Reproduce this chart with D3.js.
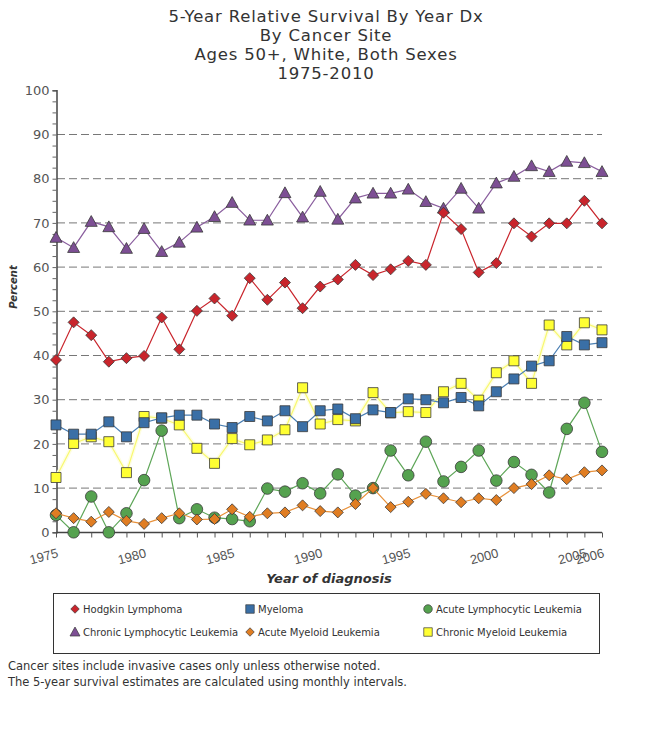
<!DOCTYPE html>
<html><head><meta charset="utf-8">
<script src="https://cdn.jsdelivr.net/npm/d3@7"></script>
<style>body{margin:0;background:#fff;} svg{display:block;}</style>
</head><body>
<svg id="c" width="650" height="742"></svg>
<script>
const years = d3.range(1975, 2007);
const titleLines = ["5-Year Relative Survival By Year Dx", "By Cancer Site", "Ages 50+, White, Both Sexes", "1975-2010"];
const xTickLabels = [1975, 1980, 1985, 1990, 1995, 2000, 2005, 2006];
const yTickLabels = [0, 10, 20, 30, 40, 50, 60, 70, 80, 90, 100];

const hodgkin = [39.0,47.5,44.6,38.6,39.4,39.9,48.6,41.4,50.1,52.9,49.0,57.5,52.6,56.5,50.7,55.6,57.2,60.5,58.2,59.5,61.4,60.5,72.3,68.6,58.8,60.9,69.9,66.9,69.9,69.9,75.0,69.9];
const myeloma = [24.3,22.2,22.2,25.0,21.6,24.8,25.9,26.5,26.5,24.5,23.7,26.2,25.2,27.5,23.9,27.5,27.9,25.7,27.7,27.1,30.2,30.0,29.3,30.5,28.6,31.8,34.7,37.6,38.8,44.3,42.4,42.9];
const all = [3.9,0.0,8.1,0.0,4.3,11.8,23.0,3.2,5.2,3.3,3.0,2.5,9.9,9.2,11.1,8.8,13.1,8.3,10.0,18.5,12.9,20.5,11.5,14.8,18.5,11.7,15.9,13.0,9.0,23.4,29.3,18.2];
const cll = [66.7,64.4,70.3,69.1,64.2,68.7,63.5,65.6,69.0,71.4,74.6,70.6,70.6,76.8,71.3,77.1,70.8,75.6,76.7,76.7,77.6,74.8,73.3,77.8,73.3,79.0,80.5,82.9,81.6,83.9,83.6,81.6];
const aml = [4.3,3.2,2.4,4.6,2.6,1.9,3.2,4.3,2.9,3.0,5.2,3.5,4.3,4.5,6.1,4.8,4.5,6.4,10.0,5.7,6.9,8.7,7.7,6.8,7.7,7.3,10.0,10.9,12.9,12.0,13.6,14.0];
const cml = [12.4,20.1,21.6,20.5,13.5,26.2,25.8,24.3,19.0,15.6,21.2,19.8,20.9,23.2,32.7,24.5,25.5,25.2,31.6,27.0,27.3,27.1,31.8,33.7,29.9,36.1,38.8,33.7,46.9,42.4,47.4,45.8];

const seriesNames = ["Hodgkin Lymphoma","Myeloma","Acute Lymphocytic Leukemia","Chronic Lymphocytic Leukemia","Acute Myeloid Leukemia","Chronic Myeloid Leukemia"];
const seriesValues = [hodgkin, myeloma, all, cll, aml, cml];
const seriesFill = ["#c9252c","#3a6fa6","#55a24f","#7d4f94","#e07d22","#ffff33"];
const seriesLine = ["#c9252c","#4a7fb3","#5ea658","#8a5e9e","#e8913a","#f8f870"];
const seriesShape = ["diamond","square","circle","triangle","diamond","square"];
const drawOrder = [3, 0, 5, 1, 2, 4];

const svg = d3.select("#c");
const x = d3.scaleLinear().domain([1975, 2006]).range([56, 602]);
const y = d3.scaleLinear().domain([0, 100]).range([532.3, 90.3]);

// title
svg.append("g").selectAll("text").data(titleLines).join("text")
  .attr("x", 326).attr("y", (d, i) => 22 + i * 19)
  .attr("text-anchor", "middle")
  .attr("font-family", "DejaVu Sans").attr("font-size", 16.5).attr("letter-spacing", 0.8).attr("fill", "#333")
  .text(d => d);

// gridlines
svg.append("g").selectAll("line").data(yTickLabels.filter(v => v > 0 && v < 100)).join("line")
  .attr("x1", 57).attr("x2", 602).attr("y1", d => y(d)).attr("y2", d => y(d))
  .attr("stroke", "#777").attr("stroke-width", 1).attr("stroke-dasharray", "8,4");

// y axis
const yAxis = d3.axisLeft(y).tickValues(d3.range(0, 100.1, 2.5)).tickSize(4)
  .tickFormat(d => (d % 10 === 0 ? d : ""));
const gy = svg.append("g").attr("transform", "translate(56.5,0)").call(yAxis);
gy.select(".domain").attr("stroke", "#444").attr("stroke-width", 1.5);
gy.selectAll(".tick line").attr("stroke", "#666");
gy.selectAll(".tick text").attr("font-family", "DejaVu Sans").attr("font-size", 13).attr("fill", "#555").attr("x", -7);

// x axis
const xAxis = d3.axisBottom(x).tickValues(years).tickSize(5).tickFormat("");
const gx = svg.append("g").attr("transform", "translate(0,532.5)").call(xAxis);
gx.select(".domain").attr("stroke", "#444").attr("stroke-width", 1.5).attr("d", "M56,0H602");
gx.selectAll(".tick line").attr("stroke", "#555");
svg.append("g").selectAll("text").data(xTickLabels).join("text")
  .attr("transform", d => `translate(${x(d) + 3},557) rotate(-15)`)
  .attr("text-anchor", "end")
  .attr("font-family", "Liberation Sans").attr("font-size", 13).attr("fill", "#555")
  .text(d => d);

// axis titles
svg.append("text").attr("x", 329).attr("y", 583).attr("text-anchor", "middle")
  .attr("font-family", "DejaVu Sans").attr("font-weight", "bold").attr("font-style", "italic")
  .attr("font-size", 13).attr("fill", "#333").text("Year of diagnosis");
svg.append("text").attr("transform", "translate(17,287) rotate(-90)").attr("text-anchor", "middle")
  .attr("font-family", "DejaVu Sans").attr("font-weight", "bold").attr("font-style", "italic")
  .attr("font-size", 10).attr("fill", "#333").text("Percent");

function markerPath(shape, s) {
  const h = s / 2;
  if (shape === "diamond") return `M0,${-h}L${h},0L0,${h}L${-h},0Z`;
  if (shape === "square") return `M${-h},${-h}H${h}V${h}H${-h}Z`;
  if (shape === "triangle") return `M0,${-h}L${h},${h * 0.8}L${-h},${h * 0.8}Z`;
  return d3.symbol(d3.symbolCircle, s * s * 0.8)();
}
const markerSize = {diamond: 11, square: 10, circle: 11.5, triangle: 12};

const line = d3.line().x((d, i) => x(years[i])).y(d => y(d));
const plot = svg.append("g");
drawOrder.forEach(k => {
  const vals = seriesValues[k];
  const g = plot.append("g");
  if (k === 5) {
    g.append("path").attr("d", line(vals)).attr("fill", "none")
      .attr("stroke", "#fefee2").attr("stroke-width", 4);
  }
  g.append("path").attr("d", line(vals)).attr("fill", "none")
    .attr("stroke", seriesLine[k]).attr("stroke-width", 1.2);
  g.selectAll("path.m").data(vals).join("path").attr("class", "m")
    .attr("transform", (d, i) => `translate(${x(years[i])},${y(d)})`)
    .attr("d", markerPath(seriesShape[k], markerSize[seriesShape[k]]))
    .attr("fill", seriesFill[k]).attr("stroke", "#3a3a3a").attr("stroke-width", 0.8);
});

// legend
const lg = svg.append("g");
lg.append("rect").attr("x", 53.5).attr("y", 593.5).attr("width", 546).attr("height", 60)
  .attr("fill", "#fff").attr("stroke", "#333").attr("stroke-width", 1);
const legendPos = [[75, 609], [250, 609], [428, 609], [75, 632], [250, 632], [428, 632]];
seriesNames.forEach((name, k) => {
  const [lx, ly] = legendPos[k];
  const s = seriesShape[k] === "triangle" ? 10 : 8.5;
  lg.append("path").attr("transform", `translate(${lx},${ly})`)
    .attr("d", markerPath(seriesShape[k], s))
    .attr("fill", seriesFill[k]).attr("stroke", "#3a3a3a").attr("stroke-width", 0.7);
  lg.append("text").attr("x", lx + 8).attr("y", ly + 4)
    .attr("font-family", "DejaVu Sans").attr("font-size", 10).attr("fill", "#333").text(name);
});

// footnotes
const notes = ["Cancer sites include invasive cases only unless otherwise noted.", "The 5-year survival estimates are calculated using monthly intervals."];
svg.append("g").selectAll("text").data(notes).join("text")
  .attr("x", 8).attr("y", (d, i) => 670 + i * 16)
  .attr("font-family", "DejaVu Sans").attr("font-size", 11.5).attr("fill", "#333").text(d => d);
</script>
</body></html>
